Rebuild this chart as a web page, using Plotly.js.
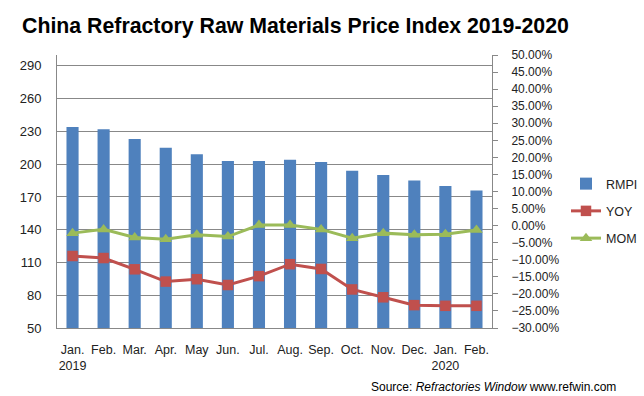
<!DOCTYPE html>
<html>
<head>
<meta charset="utf-8">
<script src="https://cdn.plot.ly/plotly-3.0.1.min.js"></script>
<style>html,body{margin:0;padding:0;background:#fff;}#chart{width:644px;height:396px;}</style>
</head>
<body>
<div id="chart"></div>
<script>
var categories = ["Jan. 2019","Feb. 2019","Mar. 2019","Apr. 2019","May 2019","Jun. 2019","Jul. 2019","Aug. 2019","Sep. 2019","Oct. 2019","Nov. 2019","Dec. 2019","Jan. 2020","Feb. 2020"];
var tickLabels = ["Jan.<br>2019","Feb.","Mar.","Apr.","May","Jun.","Jul.","Aug.","Sep.","Oct.","Nov.","Dec.","Jan.<br>2020","Feb."];
var rmpi = [234, 232, 223, 215, 209, 203, 203, 204, 202, 194, 190, 185, 180, 176];
var yoy = [-0.089, -0.095, -0.128, -0.164, -0.157, -0.174, -0.148, -0.113, -0.127, -0.187, -0.210, -0.233, -0.235, -0.235];
var mom = [-0.022, -0.011, -0.035, -0.040, -0.027, -0.032, 0.002, 0.002, -0.011, -0.037, -0.022, -0.027, -0.025, -0.013];

var font = "Liberation Sans, Arial, sans-serif";
var traces = [
  {type:"bar", name:"RMPI", x:categories, y:rmpi, marker:{color:"#4F81BD"}, legendgroup:"a"},
  {type:"scatter", mode:"lines+markers", name:"YOY", x:categories, y:yoy, yaxis:"y2",
   line:{color:"#C0504D", width:3}, marker:{symbol:"square", size:10.5, color:"#C0504D"}, legendgroup:"b"},
  {type:"scatter", mode:"lines+markers", name:"MOM", x:categories, y:mom, yaxis:"y2",
   line:{color:"#9BBB59", width:3}, marker:{symbol:"triangle-up", size:11, color:"#9BBB59"}, legendgroup:"c"}
];
var layout = {
  width:644, height:396,
  margin:{l:57, r:152, t:55, b:68},
  paper_bgcolor:"#fff", plot_bgcolor:"#fff",
  font:{family:font, size:12, color:"#222"},
  title:{text:"<b>China Refractory Raw Materials Price Index 2019-2020</b>", font:{family:font, size:21.3, color:"#000"},
         x:22/644, xref:"container", xanchor:"left", y:1-26/396, yref:"container", yanchor:"middle"},
  bargap:0.61,
  showlegend:true,
  legend:{xref:"container", yref:"container", x:566/644, xanchor:"left", y:1-169/396, yanchor:"top", tracegroupgap:8, itemwidth:30,
          font:{family:font, size:12.5, color:"#222"}, bgcolor:"rgba(0,0,0,0)"},
  xaxis:{type:"category", categoryorder:"array", categoryarray:categories, tickvals:categories, ticktext:tickLabels,
         range:[-0.5, 13.5], autorange:false,
         showline:true, linecolor:"#888", linewidth:1, showgrid:false, ticks:"", ticklabelstandoff:10,
         tickfont:{family:font, size:12.5, color:"#222"}, fixedrange:true, zeroline:false},
  yaxis:{range:[50,300], tick0:50, dtick:30, tickmode:"linear", showline:true, linecolor:"#888", linewidth:1,
         showgrid:true, gridcolor:"#888", gridwidth:1, zeroline:false, ticks:"", ticklabelstandoff:12,
         tickfont:{family:font, size:13, color:"#222"}},
  yaxis2:{overlaying:"y", side:"right", range:[-0.30,0.50], tick0:-0.30, dtick:0.05, tickmode:"linear", tickformat:".2%",
          showline:true, linecolor:"#888", linewidth:1, showgrid:false, zeroline:false, ticks:"outside", ticklen:5, tickcolor:"#888",
          ticklabelstandoff:11, tickfont:{family:font, size:12, color:"#222"}},
  annotations:[{xref:"paper", yref:"paper", x:(618-57)/435, xanchor:"right", y:-(387-328)/273, yanchor:"middle", showarrow:false,
    text:"Source: <i>Refractories Window</i> www.refwin.com", font:{family:font, size:12, color:"#000"}}]
};
Plotly.newPlot("chart", traces, layout, {displayModeBar:false, staticPlot:true});
</script>
</body>
</html>
